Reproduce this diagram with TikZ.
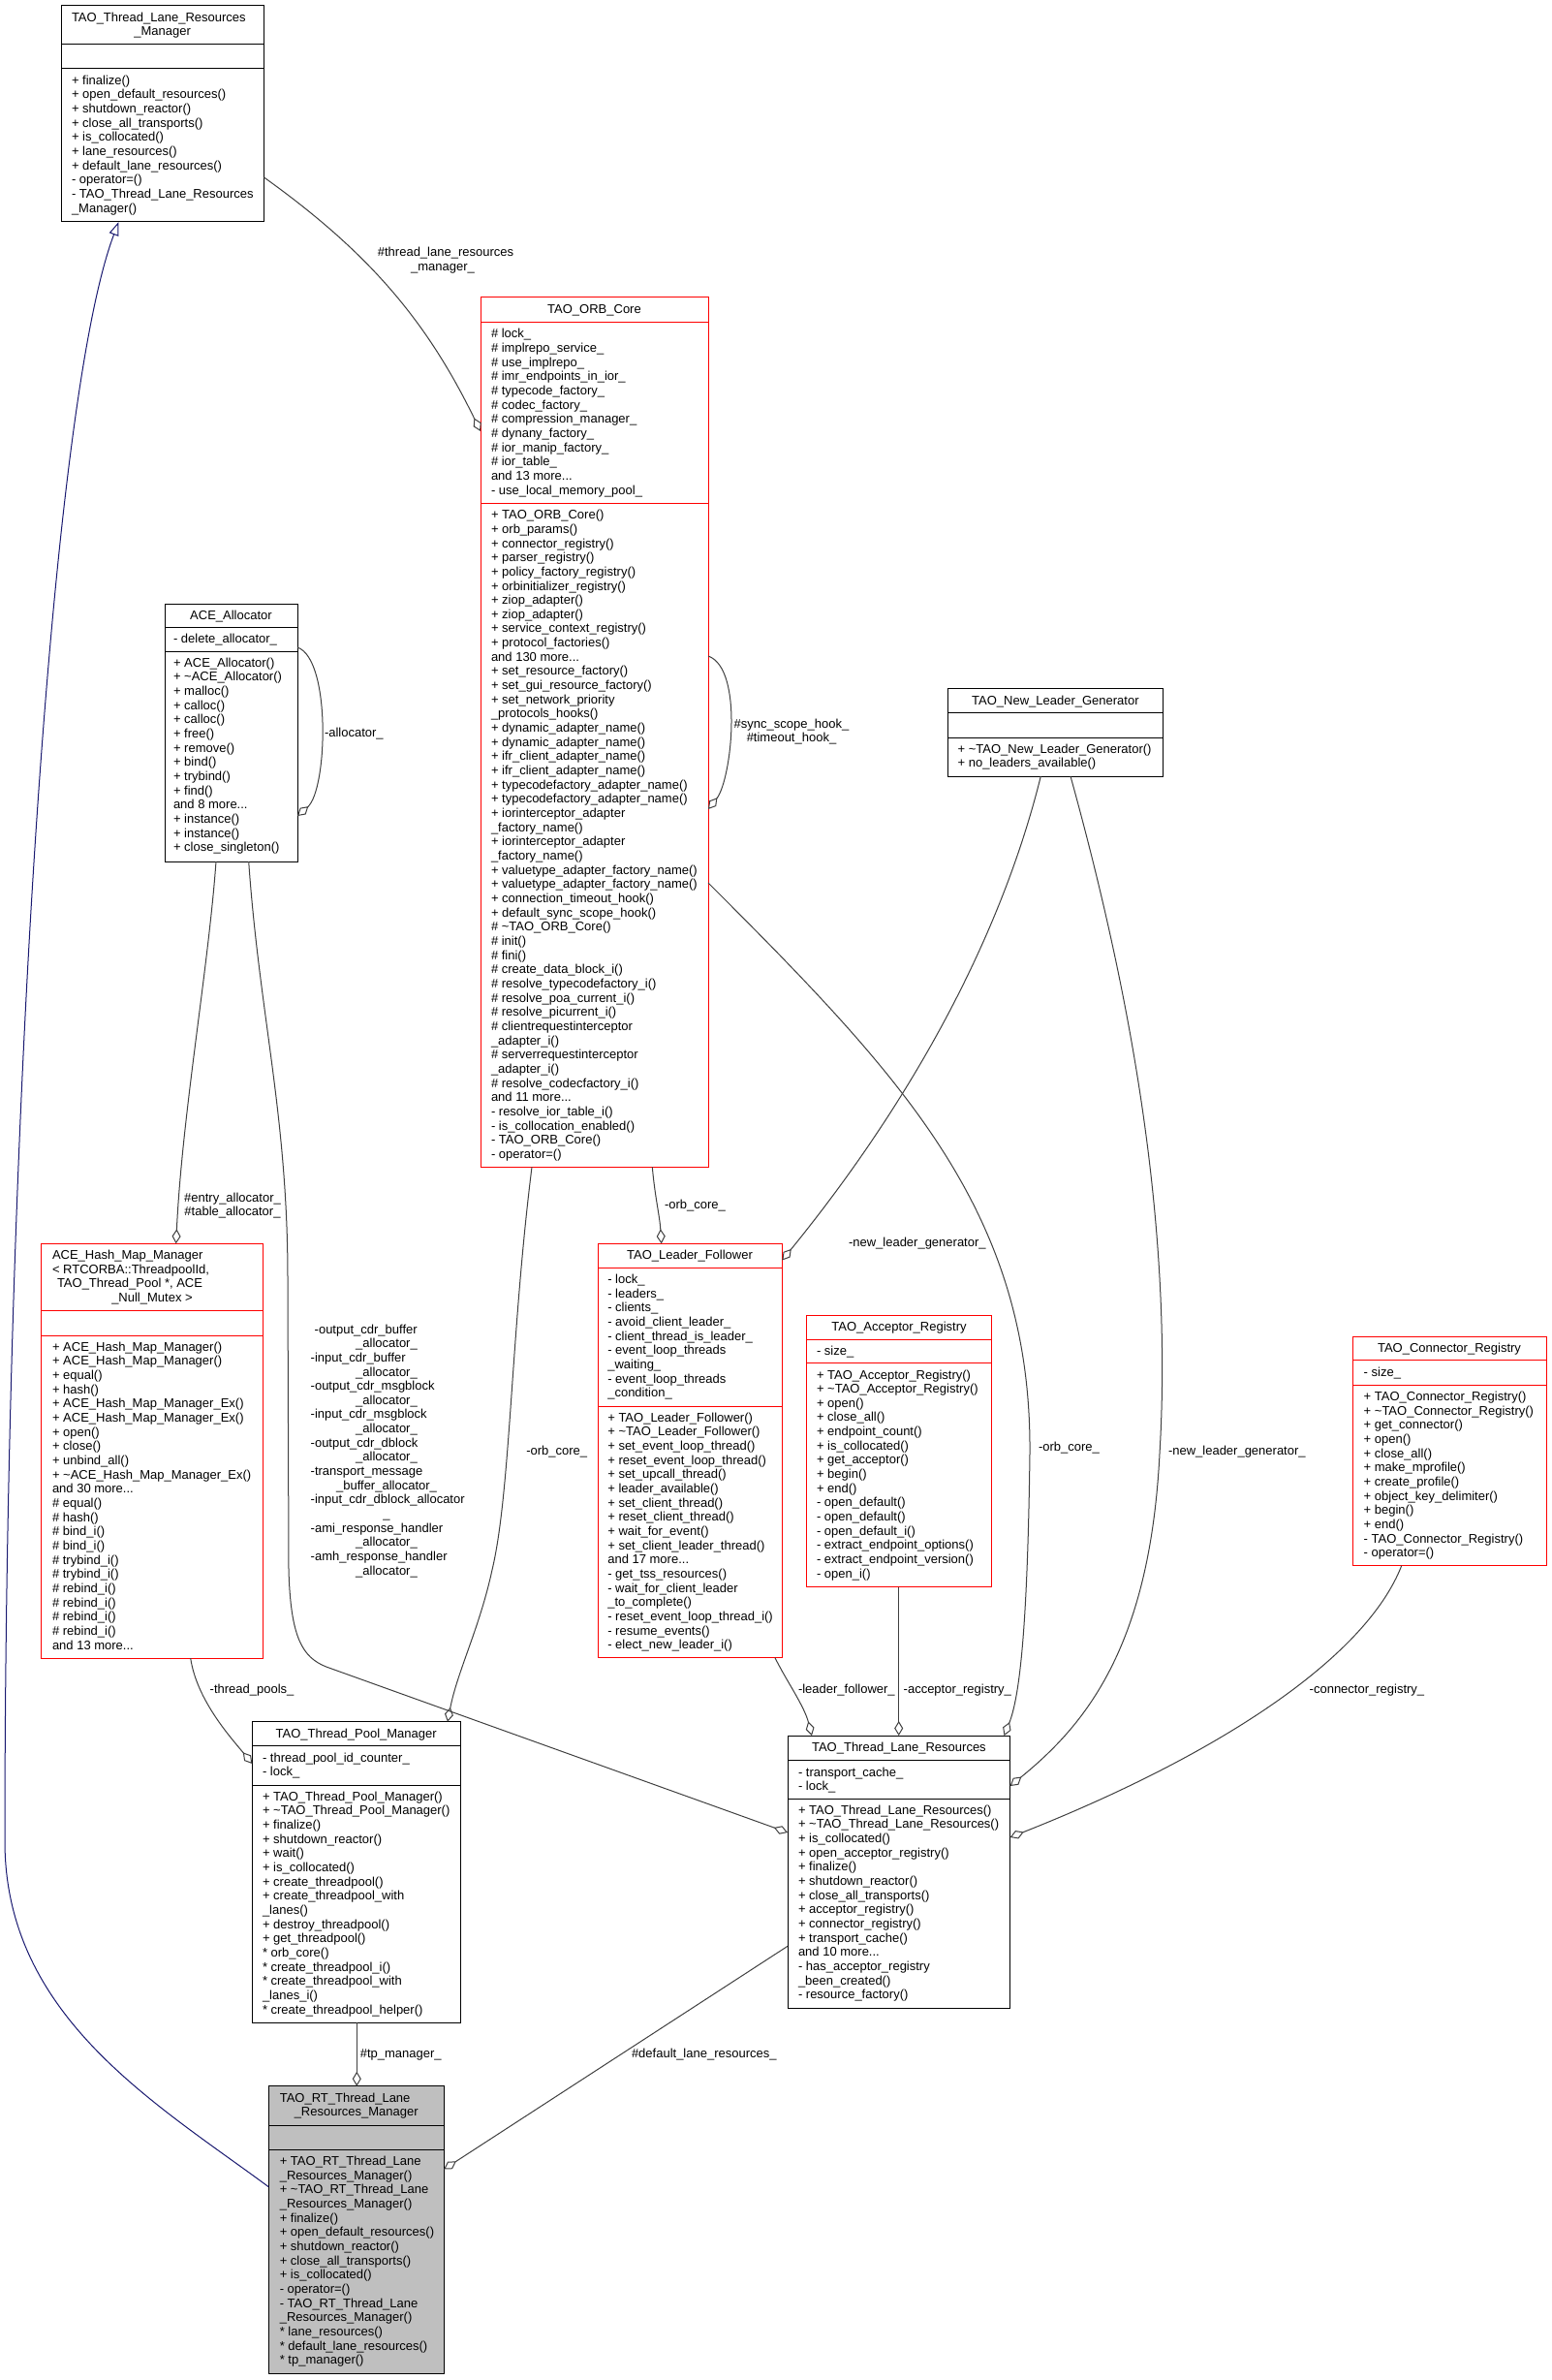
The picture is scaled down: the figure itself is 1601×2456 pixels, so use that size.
\documentclass[tikz,border=0pt]{standalone}
\usepackage{fontspec}
\setmainfont{Liberation Sans}
\usetikzlibrary{arrows.meta}
\definecolor{edgegray}{RGB}{64,64,64}
\definecolor{inhblue}{RGB}{25,25,112}
\definecolor{nodegray}{RGB}{191,191,191}
\newcommand\ddd{...}
\tikzset{
  txt/.style={anchor=base west, inner sep=0pt, outer sep=0pt, font=\fontsize{13}{14.66}\selectfont},
  ctxt/.style={anchor=base, inner sep=0pt, outer sep=0pt, font=\fontsize{13}{14.66}\selectfont},
  boxnode/.style={rectangle, anchor=north west, inner sep=0pt, outer sep=0pt, line width=1pt},
  edge/.style={draw=edgegray, line width=1pt, -{Diamond[open, length=15pt, width=9pt]}},
  inh/.style={draw=inhblue, line width=1pt, -{Triangle[open, length=14pt, width=10pt]}},
}
\newcommand\umlbox[8]{%
  \node[boxnode, draw=#2, fill=#3, minimum width={(#6-#4)*1pt}, minimum height={(#7-#5)*1pt}] (#1) at (#4,#5) {};
  \foreach \yy in {#8} {\draw[draw=#2, line width=1pt] (#4,\yy) -- (#6,\yy);}%
}
\newcommand\tlines[6]{%
  \foreach \s [count=\n from 0] in {#6} {%
    \node[#2] (#1-\n) at ({#3},{#4+#5*\n}) {\s};
  }%
}
\begin{document}
\catcode`\_=12
\begin{tikzpicture}[x=1pt,y=-1pt]
\fill[white] (0,0) rectangle (1601,2456);
\useasboundingbox (0,0) rectangle (1601,2456);

% ---------------- boxes ----------------
\umlbox{tlrm}{black}{white}{63}{6}{272.5}{229}{46,71}
\umlbox{orb}{red}{white}{496}{306.8}{731}{1204.3}{332.5,519.4}
\umlbox{alloc}{black}{white}{170}{623}{307}{889}{647,672}
\umlbox{hash}{red}{white}{42.7}{1283.3}{271}{1711}{1352.3,1378}
\umlbox{lf}{red}{white}{617}{1283.3}{807.3}{1710.7}{1308.3,1451}
\umlbox{acc}{red}{white}{832}{1357}{1023.7}{1637.7}{1382,1406.7}
\umlbox{nlg}{black}{white}{978.8}{710.7}{1200}{801}{735.7,761}
\umlbox{cr}{red}{white}{1396}{1379}{1596}{1615.7}{1403.7,1429.3}
\umlbox{tpm}{black}{white}{260.3}{1776.7}{475}{2087}{1801.7,1842}
\umlbox{tlr}{black}{white}{813}{1791}{1042.7}{2072.3}{1816.7,1856}
\umlbox{rt}{black}{nodegray}{277.3}{2152.7}{458.2}{2449}{2193.3,2218.3}

% ---------------- TAO_Thread_Lane_Resources_Manager ----------------
\node[txt] (tlrmT1) at (74,22.3) {TAO_Thread_Lane_Resources};
\node[ctxt] (tlrmT2) at (167.7,37) {_Manager};
\tlines{tlrmM}{txt}{74}{87.3}{14.66}{+ finalize(), + open_default_resources(), + shutdown_reactor(), + close_all_transports(), + is_collocated(), + lane_resources(), + default_lane_resources(), - operator=(), - TAO_Thread_Lane_Resources, _Manager()}

% ---------------- TAO_ORB_Core ----------------
\node[ctxt] (orbT) at (613.5,323.1) {TAO_ORB_Core};
\tlines{orbA}{txt}{507}{348.8}{14.66}{\# lock_, \# implrepo_service_, \# use_implrepo_, \# imr_endpoints_in_ior_, \# typecode_factory_, \# codec_factory_, \# compression_manager_, \# dynany_factory_, \# ior_manip_factory_, \# ior_table_, and 13 more\ddd, - use_local_memory_pool_}
\tlines{orbM}{txt}{507}{535.7}{14.66}{+ TAO_ORB_Core(), + orb_params(), + connector_registry(), + parser_registry(), + policy_factory_registry(), + orbinitializer_registry(), + ziop_adapter(), + ziop_adapter(), + service_context_registry(), + protocol_factories(), and 130 more\ddd, + set_resource_factory(), + set_gui_resource_factory(), + set_network_priority, _protocols_hooks(), + dynamic_adapter_name(), + dynamic_adapter_name(), + ifr_client_adapter_name(), + ifr_client_adapter_name(), + typecodefactory_adapter_name(), + typecodefactory_adapter_name(), + iorinterceptor_adapter, _factory_name(), + iorinterceptor_adapter, _factory_name(), + valuetype_adapter_factory_name(), + valuetype_adapter_factory_name(), + connection_timeout_hook(), + default_sync_scope_hook(), \# \textasciitilde TAO_ORB_Core(), \# init(), \# fini(), \# create_data_block_i(), \# resolve_typecodefactory_i(), \# resolve_poa_current_i(), \# resolve_picurrent_i(), \# clientrequestinterceptor, _adapter_i(), \# serverrequestinterceptor, _adapter_i(), \# resolve_codecfactory_i(), and 11 more\ddd, - resolve_ior_table_i(), - is_collocation_enabled(), - TAO_ORB_Core(), - operator=()}

% ---------------- ACE_Allocator ----------------
\node[ctxt] (allocT) at (238.5,639.3) {ACE_Allocator};
\node[txt] (allocA) at (179,663.3) {- delete_allocator_};
\tlines{allocM}{txt}{179}{688.3}{14.66}{+ ACE_Allocator(), + \textasciitilde ACE_Allocator(), + malloc(), + calloc(), + calloc(), + free(), + remove(), + bind(), + trybind(), + find(), and 8 more\ddd, + instance(), + instance(), + close_singleton()}

% ---------------- ACE_Hash_Map_Manager ----------------
\node[txt] (hashT1) at (54,1299.6) {ACE_Hash_Map_Manager};
\node[txt] (hashT2) at (54,1314.3) {< RTCORBA::ThreadpoolId,};
\node[txt] (hashT3) at (59,1328.9) {TAO_Thread_Pool *, ACE};
\node[ctxt] (hashT4) at (157,1343.6) {_Null_Mutex >};
\tlines{hashM}{txt}{54}{1394.3}{14.66}{+ ACE_Hash_Map_Manager(), + ACE_Hash_Map_Manager(), + equal(), + hash(), + ACE_Hash_Map_Manager_Ex(), + ACE_Hash_Map_Manager_Ex(), + open(), + close(), + unbind_all(), + \textasciitilde ACE_Hash_Map_Manager_Ex(), and 30 more\ddd, \# equal(), \# hash(), \# bind_i(), \# bind_i(), \# trybind_i(), \# trybind_i(), \# rebind_i(), \# rebind_i(), \# rebind_i(), \# rebind_i(), and 13 more\ddd}

% ---------------- TAO_Leader_Follower ----------------
\node[ctxt] (lfT) at (712,1299.6) {TAO_Leader_Follower};
\tlines{lfA}{txt}{627.3}{1324.6}{14.66}{- lock_, - leaders_, - clients_, - avoid_client_leader_, - client_thread_is_leader_, - event_loop_threads, _waiting_, - event_loop_threads, _condition_}
\tlines{lfM}{txt}{627.3}{1467.3}{14.66}{+ TAO_Leader_Follower(), + \textasciitilde TAO_Leader_Follower(), + set_event_loop_thread(), + reset_event_loop_thread(), + set_upcall_thread(), + leader_available(), + set_client_thread(), + reset_client_thread(), + wait_for_event(), + set_client_leader_thread(), and 17 more\ddd, - get_tss_resources(), - wait_for_client_leader, _to_complete(), - reset_event_loop_thread_i(), - resume_events(), - elect_new_leader_i()}

% ---------------- TAO_Acceptor_Registry ----------------
\node[ctxt] (accT) at (928,1373.3) {TAO_Acceptor_Registry};
\node[txt] (accA) at (843,1398.3) {- size_};
\tlines{accM}{txt}{843}{1423}{14.66}{+ TAO_Acceptor_Registry(), + \textasciitilde TAO_Acceptor_Registry(), + open(), + close_all(), + endpoint_count(), + is_collocated(), + get_acceptor(), + begin(), + end(), - open_default(), - open_default(), - open_default_i(), - extract_endpoint_options(), - extract_endpoint_version(), - open_i()}

% ---------------- TAO_New_Leader_Generator ----------------
\node[ctxt] (nlgT) at (1089.4,727) {TAO_New_Leader_Generator};
\tlines{nlgM}{txt}{988.6}{777.3}{14.66}{+ \textasciitilde TAO_New_Leader_Generator(), + no_leaders_available()}

% ---------------- TAO_Connector_Registry ----------------
\node[ctxt] (crT) at (1496,1395.3) {TAO_Connector_Registry};
\node[txt] (crA) at (1407.7,1420) {- size_};
\tlines{crM}{txt}{1407.7}{1445.6}{14.66}{+ TAO_Connector_Registry(), + \textasciitilde TAO_Connector_Registry(), + get_connector(), + open(), + close_all(), + make_mprofile(), + create_profile(), + object_key_delimiter(), + begin(), + end(), - TAO_Connector_Registry(), - operator=()}

% ---------------- TAO_Thread_Pool_Manager ----------------
\node[ctxt] (tpmT) at (367.7,1793) {TAO_Thread_Pool_Manager};
\tlines{tpmA}{txt}{271}{1818}{14.66}{- thread_pool_id_counter_, - lock_}
\tlines{tpmM}{txt}{271}{1858.3}{14.66}{+ TAO_Thread_Pool_Manager(), + \textasciitilde TAO_Thread_Pool_Manager(), + finalize(), + shutdown_reactor(), + wait(), + is_collocated(), + create_threadpool(), + create_threadpool_with, _lanes(), + destroy_threadpool(), + get_threadpool(), * orb_core(), * create_threadpool_i(), * create_threadpool_with, _lanes_i(), * create_threadpool_helper()}

% ---------------- TAO_Thread_Lane_Resources ----------------
\node[ctxt] (tlrT) at (927.9,1807.3) {TAO_Thread_Lane_Resources};
\tlines{tlrA}{txt}{824}{1833}{14.66}{- transport_cache_, - lock_}
\tlines{tlrM}{txt}{824}{1872.3}{14.66}{+ TAO_Thread_Lane_Resources(), + \textasciitilde TAO_Thread_Lane_Resources(), + is_collocated(), + open_acceptor_registry(), + finalize(), + shutdown_reactor(), + close_all_transports(), + acceptor_registry(), + connector_registry(), + transport_cache(), and 10 more\ddd, - has_acceptor_registry, _been_created(), - resource_factory()}

% ---------------- TAO_RT_Thread_Lane_Resources_Manager ----------------
\node[txt] (rtT1) at (288.8,2169) {TAO_RT_Thread_Lane};
\node[ctxt] (rtT2) at (367.7,2183.7) {_Resources_Manager};
\tlines{rtM}{txt}{288.8}{2234.6}{14.66}{+ TAO_RT_Thread_Lane, _Resources_Manager(), + \textasciitilde TAO_RT_Thread_Lane, _Resources_Manager(), + finalize(), + open_default_resources(), + shutdown_reactor(), + close_all_transports(), + is_collocated(), - operator=(), - TAO_RT_Thread_Lane, _Resources_Manager(), * lane_resources(), * default_lane_resources(), * tp_manager()}

% ---------------- connector end points ----------------
\coordinate (c-rt-w) at (277.3,2256.7);
\coordinate (c-tlrm-s) at (122.5,229);
\coordinate (c-tlrm-e) at (272.5,183);
\coordinate (c-orb-w) at (496,445);
\coordinate (c-alloc-e1) at (307,668);
\coordinate (c-alloc-e2) at (307,842);
\coordinate (c-orb-e1) at (731,677);
\coordinate (c-orb-e2) at (731,835);
\coordinate (c-alloc-s1) at (223,889);
\coordinate (c-hash-n) at (181.7,1283.3);
\coordinate (c-alloc-s2) at (256.7,889);
\coordinate (c-tlr-w1) at (813,1891);
\coordinate (c-hash-s) at (196.7,1711);
\coordinate (c-tpm-w) at (260.3,1820);
\coordinate (c-orb-s1) at (549,1204.3);
\coordinate (c-tpm-n) at (462,1776.7);
\coordinate (c-orb-s2) at (673.3,1204.3);
\coordinate (c-lf-n) at (682.7,1283.3);
\coordinate (c-nlg-s1) at (1074.3,801);
\coordinate (c-lf-e) at (807.3,1300.5);
\coordinate (c-nlg-s2) at (1105,801);
\coordinate (c-tlr-e1) at (1042.7,1843);
\coordinate (c-orb-e3) at (731,911);
\coordinate (c-tlr-n3) at (1036.5,1791);
\coordinate (c-lf-s) at (800,1710.7);
\coordinate (c-tlr-n1) at (838,1791);
\coordinate (c-acc-s) at (927.7,1637.7);
\coordinate (c-tlr-n2) at (927.7,1791);
\coordinate (c-cr-s) at (1446.7,1615.7);
\coordinate (c-tlr-e2) at (1042.7,1896);
\coordinate (c-tpm-s) at (368.3,2087);
\coordinate (c-rt-n) at (368.3,2152.7);
\coordinate (c-tlr-w2) at (813,2008.3);
\coordinate (c-rt-e) at (458.2,2238.5);

% ---------------- connectors ----------------
\draw[inh] (c-rt-w) .. controls (160,2170) and (5,2080) .. (5,1900) .. controls (5,1200) and (50,420) .. (c-tlrm-s);
\draw[edge] (c-tlrm-e) .. controls (380,260) and (440,330) .. (c-orb-w);
\draw[edge] (c-alloc-e1) .. controls (342,680) and (338,815) .. (c-alloc-e2);
\draw[edge] (c-orb-e1) .. controls (768,690) and (755,805) .. (c-orb-e2);
\draw[edge] (c-alloc-s1) .. controls (215,1000) and (188,1150) .. (c-hash-n);
\draw[edge] (c-alloc-s2) .. controls (268,1050) and (297,1150) .. (297,1320) -- (298,1620) .. controls (300,1690) and (312,1710) .. (336.7,1720) -- (c-tlr-w1);
\draw[edge] (c-hash-s) .. controls (203,1755) and (240,1795) .. (c-tpm-w);
\draw[edge] (c-orb-s1) .. controls (527,1380) and (527,1540) .. (508,1620) .. controls (495,1680) and (472,1725) .. (c-tpm-n);
\draw[edge] (c-orb-s2) .. controls (676,1235) and (681,1255) .. (c-lf-n);
\draw[edge] (c-nlg-s1) .. controls (1030,980) and (930,1150) .. (c-lf-e);
\draw[edge] (c-nlg-s2) .. controls (1160,1000) and (1212,1250) .. (1197,1500) .. controls (1187,1700) and (1120,1780) .. (c-tlr-e1);
\draw[edge] (c-orb-e3) .. controls (930,1110) and (1065,1250) .. (1063,1500) .. controls (1061,1650) and (1055,1745) .. (c-tlr-n3);
\draw[edge] (c-lf-s) .. controls (812,1735) and (830,1760) .. (c-tlr-n1);
\draw[edge] (c-acc-s) -- (c-tlr-n2);
\draw[edge] (c-cr-s) .. controls (1410,1710) and (1260,1810) .. (c-tlr-e2);
\draw[edge] (c-tpm-s) -- (c-rt-n);
\draw[edge] (c-tlr-w2) -- (c-rt-e);

% ---------------- connector labels ----------------
\node[ctxt] (lb-tlrm1) at (460,264.5) {\#thread_lane_resources};
\node[ctxt] (lb-tlrm2) at (457,279.3) {_manager_};
\node[txt] (lb-alloc) at (335,760) {-allocator_};
\node[ctxt] (lb-orb1) at (817,751) {\#sync_scope_hook_};
\node[ctxt] (lb-orb2) at (817,765.7) {\#timeout_hook_};
\node[ctxt] (lb-hash1) at (240,1240) {\#entry_allocator_};
\node[ctxt] (lb-hash2) at (240,1254.7) {\#table_allocator_};
\node[txt] (lb-pools) at (216.7,1747) {-thread_pools_};
\node[txt] (lb-orbtpm) at (543.3,1501) {-orb_core_};
\node[txt] (lb-orblf) at (686,1247.5) {-orb_core_};
\node[txt] (lb-nlglf) at (876,1286) {-new_leader_generator_};
\node[txt] (lb-nlgtlr) at (1206,1501) {-new_leader_generator_};
\node[txt] (lb-orbtlr) at (1072,1497.5) {-orb_core_};
\node[txt] (lb-lf) at (824,1747) {-leader_follower_};
\node[txt] (lb-acc) at (932.7,1747) {-acceptor_registry_};
\node[txt] (lb-cr) at (1351.7,1747) {-connector_registry_};
\node[txt] (lb-tp) at (371.8,2123) {\#tp_manager_};
\node[txt] (lb-def) at (652,2123) {\#default_lane_resources_};
\tlines{lbL}{txt}{320.7}{1376}{29.32}{\kern4pt -output_cdr_buffer, -input_cdr_buffer, -output_cdr_msgblock, -input_cdr_msgblock, -output_cdr_dblock, -transport_message, -input_cdr_dblock_allocator, -ami_response_handler, -amh_response_handler}
\tlines{lbC}{ctxt}{399}{1390.7}{29.32}{_allocator_, _allocator_, _allocator_, _allocator_, _allocator_, _buffer_allocator_, _, _allocator_, _allocator_}
\end{tikzpicture}
\end{document}
